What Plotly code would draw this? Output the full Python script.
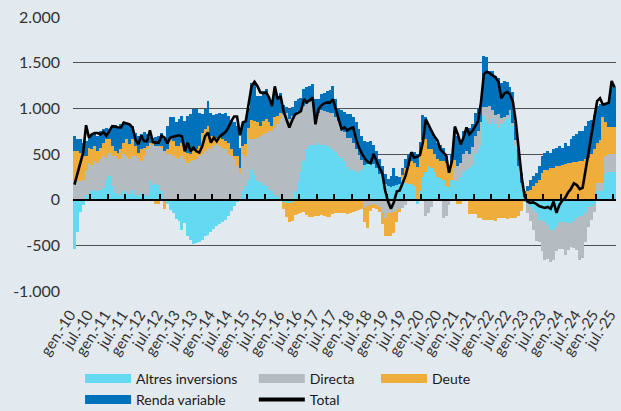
import plotly.graph_objects as go

MONTH_ABBR = ["gen.", "febr.", "març", "abr.", "maig", "juny",
              "jul.", "ag.", "set.", "oct.", "nov.", "des."]
MONTHS = [f"{MONTH_ABBR[m]}-{y % 100:02d}" for y in range(2010, 2026) for m in range(12)][:187]

ALTRES = [-540, -350, -140, -60, 55, 55, 90, 110, 100, 110, 130, 220,
          255, 145, 75, 65, 55, 90, 80, 65, 110, 55, 45, 75,
          55, 35, 200, 165, 175, 165, 90, -20, -50, -110, -150, -210,
          -230, -330, -260, -400, -440, -480, -475, -460, -440, -400, -385, -350,
          -320, -290, -270, -240, -220, -180, -120, -70, -30, 0, 90, 145,
          220, 330, 275, 200, 190, 165, 145, 115, 90, 55, 35, 10,
          -30, -40, -40, -30, 100, 200, 300, 420, 550, 600, 600, 600,
          620, 600, 600, 590, 570, 560, 520, 480, 460, 420, 360, 330,
          320, 300, 290, 330, 380, 390, 390, 390, 350, 280, 270, 170,
          150, 140, 150, 160, 170, 170, 180, 170, 170, 150, -50, 100,
          250, 300, 370, 350, 300, 250, 240, 220, 150, 140, 220, 200,
          200, 250, 300, 330, 350, 380, 500, 550, 600, 920, 860, 825,
          880, 830, 790, 830, 860, 880, 950, 805, 585, 365, 180, 20,
          -50, -80, -110, -150, -220, -230, -240, -280, -330, -330, -300, -240,
          -240, -240, -250, -260, -230, -200, -180, -180, -150, -80, -70, -50,
          90, 90, 90, 280, 300, 300, 300]

DIRECTA = [200, 200, 200, 210, 275, 345, 295, 310, 300, 330, 345, 240,
           255, 330, 400, 375, 390, 405, 390, 375, 365, 420, 415, 345,
           420, 515, 405, 430, 410, 420, 480, 530, 495, 505, 475, 460,
           445, 475, 445, 400, 420, 430, 445, 475, 495, 530, 570, 550,
           585, 605, 585, 570, 550, 495, 475, 440, 365, 295, 405, 330,
           440, 330, 390, 480, 505, 550, 590, 635, 660, 735, 790, 870,
           935, 950, 880, 915, 850, 770, 660, 605, 495, 465, 480, 240,
           330, 380, 370, 370, 380, 390, 380, 380, 320, 320, 320, 340,
           300, 260, 200, 100, -90, -70, -60, -50, -60, -80, -150, -200,
           -150, -150, -140, -120, -100, -90, -60, -20, 0, 0, 0, 0,
           0, -180, -150, -80, 0, 0, 0, -200, -180, -60, 0, 150,
           170, 150, 200, 200, 150, 200, 200, 200, 250, 100, 150, 200,
           100, 100, 150, 60, 40, 50, 30, 30, 70, 0, 0, -30,
           -100, -150, -220, -300, -240, -330, -420, -370, -350, -330, -260, -300,
           -300, -370, -300, -260, -300, -350, -480, -460, -310, -220, -150, -80,
           90, 90, 90, 200, 200, 200, 200]

DEUTE = [330, 330, 310, 265, 145, 170, 165, 165, 130, 130, 145, 205,
         150, 110, 55, 75, 110, 125, 190, 165, 185, 110, 55, 130,
         95, 35, 15, 25, -50, -50, 15, -80, 55, 155, 165, 125,
         140, 145, 125, 115, 75, 100, 105, 110, 235, 240, 235, 145,
         110, 75, 110, 90, 90, 125, 75, 35, 110, 55, 90, 130,
         130, 210, 195, 165, 110, 145, 145, 95, 55, 110, 90, 70,
         -70, -150, -200, -200, -165, -160, -150, -130, -165, -185, -185, -180,
         -180, -170, -180, -185, -185, -160, -150, -150, -150, -150, -155, -150,
         -140, -120, -110, -100, -150, -240, -60, -40, -40, -60, -120, -200,
         -250, -250, -220, -120, -30, 100, 170, 200, 250, 250, 360, 380,
         400, 360, 180, 200, 200, 200, 180, 200, 250, 170, 180, 80,
         -50, -50, 0, 0, -160, -160, -160, -200, -200, -220, -220, -220,
         -220, -230, -200, -200, -200, -210, -200, -200, -200, -180, -120, 30,
         90, 110, 145, 185, 220, 290, 330, 330, 350, 350, 365, 365,
         375, 395, 400, 400, 410, 410, 420, 420, 440, 460, 500, 550,
         440, 470, 720, 370, 300, 300, 300]

RENDA = [170, 130, 150, 145, 165, 130, 165, 145, 170, 180, 150, 125,
         115, 220, 285, 285, 270, 225, 175, 220, 145, 145, 180, 165,
         170, 130, 70, 60, 100, 110, 145, 130, 255, 240, 260, 260,
         295, 295, 290, 400, 440, 460, 440, 365, 205, 220, 275, 255,
         230, 255, 255, 275, 310, 295, 310, 370, 330, 220, 240, 245,
         200, 410, 405, 290, 330, 330, 330, 255, 220, 310, 220, 220,
         100, 60, 110, 95, 130, 130, 150, 185, 185, 175, 185, 260,
         150, 180, 200, 230, 250, 290, 200, 130, 200, 220, 260, 270,
         280, 290, 280, 270, 260, 240, 250, 210, 180, 170, 100, 110,
         80, 120, 200, 100, 80, 80, 100, 130, 100, 120, 140, 150,
         280, 240, 260, 210, 200, 170, 180, 150, 80, 60, 100, 320,
         330, 250, 250, 270, 280, 250, 250, 250, 250, 550, 550, 385,
         430, 420, 390, 390, 400, 355, 250, 340, 190, 185, 110, 40,
         60, 110, 110, 105, 145, 185, 180, 200, 160, 200, 205, 220,
         195, 225, 185, 260, 285, 305, 330, 330, 365, 400, 370, 380,
         410, 400, 160, 210, 270, 485, 430]

TOTAL = [165, 290, 400, 515, 815, 680, 715, 730, 730, 715, 740, 700,
         750, 805, 800, 790, 790, 845, 835, 825, 790, 660, 605, 700,
         640, 640, 760, 630, 625, 625, 700, 680, 615, 680, 690, 695,
         705, 695, 530, 625, 530, 570, 530, 515, 585, 695, 735, 625,
         680, 640, 690, 715, 740, 790, 860, 910, 910, 705, 845, 860,
         1065, 1245, 1290, 1245, 1175, 1165, 1175, 1120, 1025, 1240, 1100, 1135,
         970, 880, 790, 870, 935, 950, 970, 1100, 1065, 1090, 1120, 825,
         990, 1030, 1055, 1065, 1060, 1100, 980, 860, 770, 790, 760, 780,
         790, 660, 570, 505, 450, 415, 400, 500, 420, 350, 290, 100,
         -20, -100, -30, 90, 100, 170, 260, 380, 520, 460, 470, 490,
         630, 880, 810, 750, 690, 650, 550, 520, 485, 295, 420, 800,
         720, 605, 680, 790, 715, 750, 805, 860, 1065, 1375, 1400, 1385,
         1360, 1340, 1290, 1110, 1160, 1180, 1150, 1070, 850, 560, 250, 40,
         -20, -35, -30, -45, -70, -80, -90, -80, -100, -20, -145, -60,
         -10, 20, 80, 120, 180, 160, 115, 130, 320, 520, 720, 930,
         1080, 1110, 1040, 1050, 1060, 1300, 1230]

TICK_LABELS = ["gen.-10", "jul.-10", "gen.-11", "jul.-11", "gen.-12", "jul.-12",
               "gen.-13", "jul.-13", "gen.-14", "jul.-14", "gen.-15", "jul.-15",
               "gen.-16", "jul.-16", "gen.-17", "jul.-17", "gen.-18", "jul.-18",
               "gen.-19", "jul.-19", "gen.-20", "jul.-20", "gen.-21", "jul.-21",
               "gen.-22", "jul.-22", "gen.-23", "jul.-23", "gen.-24", "jul.-24",
               "gen.-25", "jul.-25"]
Y_TICKS = [-1000, -500, 0, 500, 1000, 1500, 2000]
Y_TICK_LABELS = ["-1.000", "-500", "0", "500", "1.000", "1.500", "2.000"]

SERIES = [("Altres inversions", ALTRES, "#66d9f2"),
          ("Directa", DIRECTA, "#b4bcc1"),
          ("Deute", DEUTE, "#efad3b"),
          ("Renda variable", RENDA, "#0071bb")]

BG = "#e2e9ef"
FONT = "Lato, Roboto, sans-serif"

x = list(range(len(MONTHS)))
tickvals = [MONTHS.index(t) - 0.5 for t in TICK_LABELS]
xr = [-0.5, len(MONTHS) - 0.5]

fig = go.Figure()
for name, vals, col in SERIES:
    fig.add_trace(go.Bar(x=x, y=vals, name=name, marker=dict(color=col, line=dict(width=0)),
                         showlegend=False, hoverinfo="skip"))
fig.add_trace(go.Scatter(x=x, y=TOTAL, xaxis="x2", mode="lines", name="Total",
                         line=dict(color="black", width=2.6), showlegend=False,
                         hoverinfo="skip"))

# legend entries
legend_map = {"Altres inversions": "legend", "Renda variable": "legend",
              "Directa": "legend2", "Deute": "legend3"}
order = ["Altres inversions", "Renda variable", "Directa", "Deute"]
colors = {n: c for n, _, c in SERIES}
for n in order:
    fig.add_trace(go.Scatter(x=[None], y=[None], mode="lines", name=n,
                             line=dict(color=colors[n], width=9),
                             legend=legend_map[n], showlegend=True))
fig.add_trace(go.Scatter(x=[None], y=[None], mode="lines", name="Total",
                         line=dict(color="black", width=4),
                         legend="legend2", showlegend=True))

leg_common = dict(orientation="v", xanchor="left", yanchor="top", y=-0.262,
                  bgcolor="rgba(0,0,0,0)", itemwidth=46, tracegroupgap=0,
                  font=dict(family=FONT, size=14, color="#1a1a1a"))

fig.update_layout(
    width=621, height=411,
    paper_bgcolor=BG, plot_bgcolor=BG,
    margin=dict(l=73, r=5, t=17, b=120, autoexpand=False),
    barmode="relative", bargap=0,
    xaxis=dict(range=xr, tickvals=tickvals, ticktext=TICK_LABELS, tickangle=-57,
               showgrid=False, zeroline=False, showline=False, ticks="",
               ticklabeloverflow="allow", ticklabelstandoff=11, ticklabelshift=-3,
               tickfont=dict(family=FONT, size=15, color="#333333")),
    xaxis2=dict(overlaying="x", anchor="free", position=1 / 3, range=xr,
                showline=True, linecolor="black", linewidth=2,
                ticks="inside", ticklen=5, tickwidth=1.5, tickcolor="black",
                tickvals=tickvals, showticklabels=False, showgrid=False, zeroline=False),
    yaxis=dict(range=[-1000, 2000], tickvals=Y_TICKS, ticktext=Y_TICK_LABELS,
               showgrid=True, gridcolor="#505050", gridwidth=1.2, zeroline=False,
               ticks="", ticklabelstandoff=12,
               tickfont=dict(family=FONT, size=16, color="#333333")),
    legend=dict(x=0.013, **leg_common),
    legend2=dict(x=0.333, **leg_common),
    legend3=dict(x=0.558, **leg_common),
    showlegend=True,
    hovermode=False,
)

fig.write_html("out.html", config={"displayModeBar": False},
               post_script="document.body.style.margin='0px';")
